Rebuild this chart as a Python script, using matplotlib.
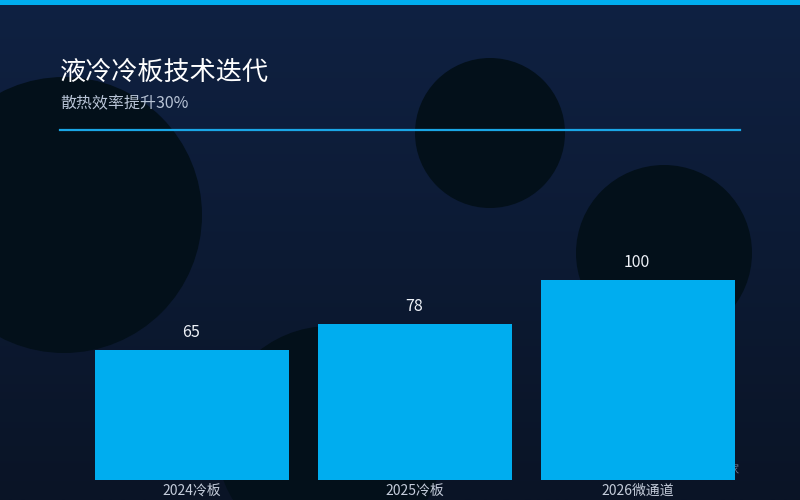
import numpy as np
import matplotlib.pyplot as plt
from matplotlib.patches import Circle

plt.rcParams['font.family'] = ['Noto Sans CJK SC', 'DejaVu Sans']

categories = ['2024冷板', '2025冷板', '2026微通道']
values = [65, 78, 100]
title = '液冷冷板技术迭代'
subtitle = '散热效率提升30%'
source = '数据来源：行业专家'

BAR_COLOR = '#00adef'
DARK = '#03101a'

fig = plt.figure(figsize=(8, 5), dpi=100)

# background layer in pixel coordinates
bg = fig.add_axes([0, 0, 1, 1])
bg.set_xlim(0, 800)
bg.set_ylim(500, 0)
bg.axis('off')
grad = np.linspace(0, 1, 256).reshape(-1, 1)
top = np.array([0x0f, 0x21, 0x42]) / 255
bot = np.array([0x0a, 0x14, 0x26]) / 255
img = top + grad[..., None] * (bot - top)
bg.imshow(img, extent=[0, 800, 500, 0], aspect='auto', zorder=0)

for (cx, cy, r) in [(64, 215, 138), (490, 133, 75), (664, 253, 88), (330, 440, 114)]:
    bg.add_patch(Circle((cx, cy), r, color=DARK, zorder=1, lw=0))

bg.add_patch(plt.Rectangle((0, 0), 800, 5, color=BAR_COLOR, zorder=2, lw=0))
bg.plot([60, 740], [130, 130], color='#1aa6e6', lw=1.6, zorder=2)
bg.text(60, 72, title, color='#ffffff', fontsize=18.8, va='center', ha='left', zorder=3)
bg.text(60, 103.5, subtitle, color='#b8c4d6', fontsize=11.5, va='center', ha='left', zorder=3)
bg.text(740, 470, source, color='#6b7a90', fontsize=8, va='center', ha='right', zorder=3)

# bar chart
ax = fig.add_axes([80.5 / 800, 20 / 500, 669 / 800, 260 / 500])
ax.patch.set_alpha(0)
x = np.arange(len(categories))
bars = ax.bar(x, values, width=0.87, color=BAR_COLOR, zorder=2)
ax.set_xlim(-0.5, len(categories) - 0.5)
ax.set_ylim(0, 130)
for b, v in zip(bars, values):
    ax.text(b.get_x() + b.get_width() / 2 - 0.005, v + 4.6, str(v), ha='center', va='bottom',
            color='#eef2f8', fontsize=11.5)
ax.set_xticks(x)
ax.set_xticklabels(categories, color='#c4ccda', fontsize=10)
ax.tick_params(axis='x', length=0, pad=2.5)
ax.set_yticks([])
for s in ax.spines.values():
    s.set_visible(False)

fig.savefig('out.png', dpi=100)
